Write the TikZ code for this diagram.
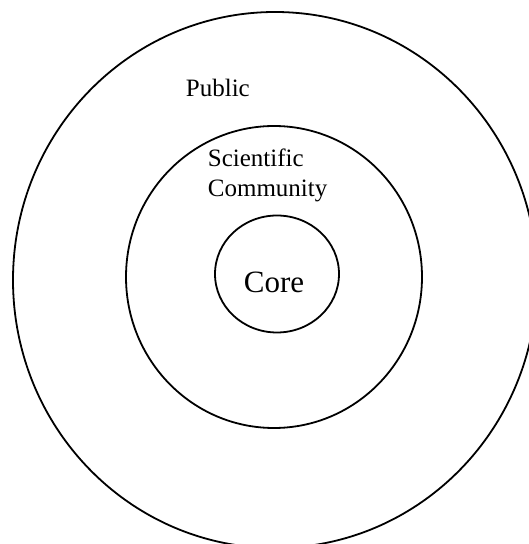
\documentclass[tikz,border=0pt]{standalone}
\usepackage{fontspec}
\setmainfont{Liberation Serif}
\begin{document}
\begin{tikzpicture}[x=1pt, y=1pt, line width=1.8pt,
  every node/.style={inner sep=0pt, font=\fontsize{25}{30}\selectfont}]
  \clip (0,0) rectangle (529,544);
  \useasboundingbox (0,0) rectangle (529,544);
  % rings
  \draw (275,264) ellipse (262 and 268);
  \draw (274,267) ellipse (148 and 151);
  \draw (277,270) ellipse (62 and 58.5);
  % labels
  \node[anchor=base west] (public) at (185,447) {Public};
  \node[anchor=base west, align=left] (community) at (207,347) {Scientific\\Community};
  \node[anchor=base west, font=\fontsize{31}{36}\selectfont] (core) at (243,251) {Core};
\end{tikzpicture}
\end{document}
